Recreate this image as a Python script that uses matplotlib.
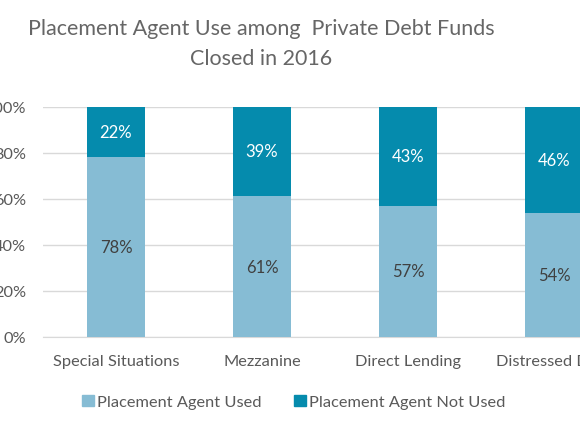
import numpy as np
import matplotlib
matplotlib.use('Agg')
import matplotlib.pyplot as plt
from matplotlib.patches import Patch

categories = ['Special Situations', 'Mezzanine', 'Direct Lending', 'Distressed Debt']
agent_used = [78, 61, 57, 54]
agent_not_used = [22, 39, 43, 46]
series_names = ['Placement Agent Used', 'Placement Agent Not Used']
y_ticks = [0, 20, 40, 60, 80, 100]

light = '#86bcd4'
dark = '#058bad'
grey = '#595959'

plt.rcParams['font.family'] = ['Lato', 'DejaVu Sans']

fig = plt.figure(figsize=(5.8, 4.35), dpi=100)
# axes runs past the right edge, like the cropped source
ax = fig.add_axes([43/580, 1-338/435, 584/580, 230.5/435])

x = np.arange(len(categories))
used = np.array(agent_used)
notused = np.array(agent_not_used)
ax.bar(x, used, width=0.4, color=light, zorder=3)
ax.bar(x, notused, width=0.4, bottom=used, color=dark, zorder=3)

for i in range(len(x)):
    ax.text(x[i], used[i]/2, str(used[i])+'%', ha='center', va='center',
            fontsize=12, color='#404040', zorder=4)
    ax.text(x[i], used[i]+notused[i]/2, str(notused[i])+'%', ha='center', va='center',
            fontsize=12, color='white', zorder=4)

ax.set_xlim(-0.5, len(categories)-0.5)
ax.set_ylim(0, 100)
ax.set_yticks(y_ticks)
ax.set_yticklabels([str(t)+'%' for t in y_ticks])
ax.set_xticks(x)
ax.set_xticklabels(categories)
ax.tick_params(axis='both', length=0, labelsize=11.8, labelcolor=grey)
ax.tick_params(axis='y', pad=12)
ax.tick_params(axis='x', pad=12)
ax.grid(axis='y', color='#d9d9d9', linewidth=1, zorder=0)
for s in ['top', 'right', 'left']:
    ax.spines[s].set_visible(False)
ax.spines['bottom'].set_color('#d9d9d9')

fig.text(261/580, 1-29/435, 'Placement Agent Use among  Private Debt Funds',
         ha='center', va='center', fontsize=15.5, color='#666666')
fig.text(261/580, 1-59/435, 'Closed in 2016',
         ha='center', va='center', fontsize=15.5, color='#666666')

handles = [Patch(color=light), Patch(color=dark)]
fig.legend(handles, series_names, loc='center', bbox_to_anchor=(294/580, 1-403/435),
           ncol=2, frameon=False, fontsize=11.8, labelcolor=grey,
           handlelength=0.7, handleheight=0.7, handletextpad=0.2, columnspacing=2.0)

fig.savefig('out.png', dpi=100)
